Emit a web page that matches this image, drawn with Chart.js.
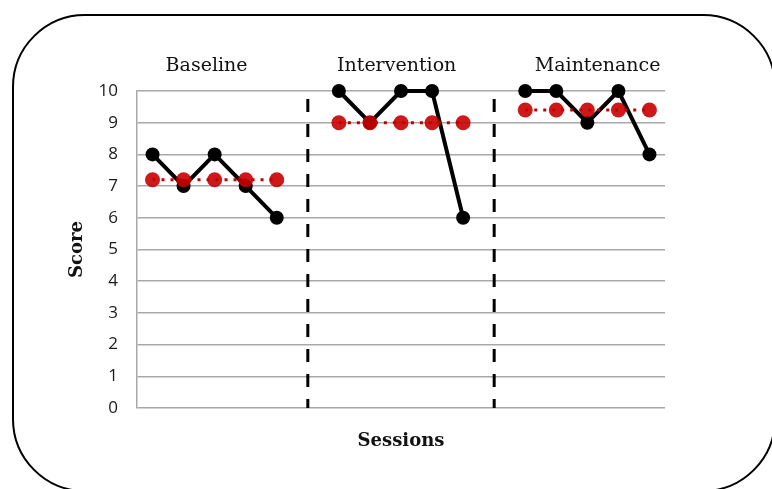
<!DOCTYPE html>
<html>
<head>
<meta charset="utf-8">
<script src="https://cdn.jsdelivr.net/npm/chart.js@4/dist/chart.umd.min.js"></script>
<style>
  html, body { margin: 0; padding: 0; background: #fff; overflow: hidden; }
  #wrap { position: relative; width: 772px; height: 489px; }
  #frame {
    position: absolute; left: 12px; top: 14px; width: 764px; height: 478px;
    box-sizing: border-box; border: 2px solid #000; border-radius: 73px;
    pointer-events: none;
  }
  canvas { position: absolute; left: 0; top: 0; }
</style>
</head>
<body>
<div id="wrap">
  <canvas id="scoreChart" width="772" height="489"></canvas>
  <div id="frame"></div>
</div>
<script>
// --- DATA ---
const sessionLabels = ['B1','B2','B3','B4','B5','P1','I1','I2','I3','I4','I5','P2','M1','M2','M3','M4','M5'];
const baselineScores = [8, 7, 8, 7, 6];
const interventionScores = [10, 9, 10, 10, 6];
const maintenanceScores = [10, 10, 9, 10, 8];
const phaseMeans = [7.2, 9, 9.4];
const phaseNames = ['Baseline', 'Intervention', 'Maintenance'];
const phaseBreaks = ['P1', 'P2'];
const yTicks = [0, 1, 2, 3, 4, 5, 6, 7, 8, 9, 10];

// --- BUILD SERIES (null splits the line between phases) ---
const scoreSeries = [...baselineScores, null, ...interventionScores, null, ...maintenanceScores];
const meanSeries = [
  ...baselineScores.map(() => phaseMeans[0]), null,
  ...interventionScores.map(() => phaseMeans[1]), null,
  ...maintenanceScores.map(() => phaseMeans[2])
];

const breakSets = phaseBreaks.map(lbl => ({
  data: [{ x: lbl, y: 9.75 }, { x: lbl, y: 0 }],
  borderColor: '#000',
  borderWidth: 3,
  borderDash: [13, 12],
  pointRadius: 0,
  order: 3,
  clip: false
}));

// phase headings above the plot
const phaseTitles = {
  id: 'phaseTitles',
  afterDraw(chart) {
    const ctx = chart.ctx;
    const x = chart.scales.x;
    const spots = [1.74, 7.86, 14.33];
    ctx.save();
    ctx.font = '19px "DejaVu Serif"';
    ctx.fillStyle = '#111';
    ctx.textAlign = 'center';
    ctx.textBaseline = 'alphabetic';
    phaseNames.forEach((name, i) => {
      ctx.fillText(name, x.getPixelForValue(spots[i]), 71);
    });
    ctx.restore();
  }
};

new Chart(document.getElementById('scoreChart'), {
  type: 'line',
  data: {
    labels: sessionLabels,
    datasets: [
      {
        data: meanSeries,
        borderColor: '#c00000',
        borderWidth: 3,
        borderDash: [3, 6],
        pointRadius: 7.5,
        pointBackgroundColor: 'rgba(200,0,0,0.9)',
        pointBorderWidth: 0,
        spanGaps: false,
        order: 0,
        clip: false
      },
      {
        data: scoreSeries,
        borderColor: '#000',
        borderWidth: 4,
        pointRadius: 7,
        pointBackgroundColor: '#000',
        pointBorderWidth: 0,
        spanGaps: false,
        order: 1,
        clip: false
      },
      ...breakSets
    ]
  },
  options: {
    responsive: false,
    animation: false,
    layout: { padding: { left: 0, top: 91, right: 107, bottom: 0 } },
    plugins: { legend: { display: false }, tooltip: { enabled: false } },
    scales: {
      x: {
        type: 'category',
        offset: true,
        grid: { display: false },
        border: { display: false },
        ticks: { display: false },
        title: {
          display: true,
          text: 'Sessions',
          font: { family: 'DejaVu Serif', size: 18, weight: 'bold' },
          color: '#111',
          padding: { top: 0, bottom: 37 }
        },
        afterFit(scale) { scale.height = 81; }
      },
      y: {
        min: 0,
        max: 10,
        afterBuildTicks(scale) { scale.ticks = yTicks.map(v => ({ value: v })); },
        grid: { color: '#a8a8a8', lineWidth: 1.5, drawTicks: false },
        border: { display: true, color: '#a8a8a8', width: 1.5 },
        ticks: {
          padding: 19,
          color: '#1a1a1a',
          font: { family: 'Open Sans', size: 17 }
        },
        title: {
          display: true,
          text: 'Score',
          font: { family: 'DejaVu Serif', size: 18, weight: 'bold' },
          color: '#111',
          padding: { top: 67, bottom: 0 }
        },
        afterFit(scale) { scale.width = 137; }
      }
    }
  },
  plugins: [phaseTitles]
});
</script>
</body>
</html>
